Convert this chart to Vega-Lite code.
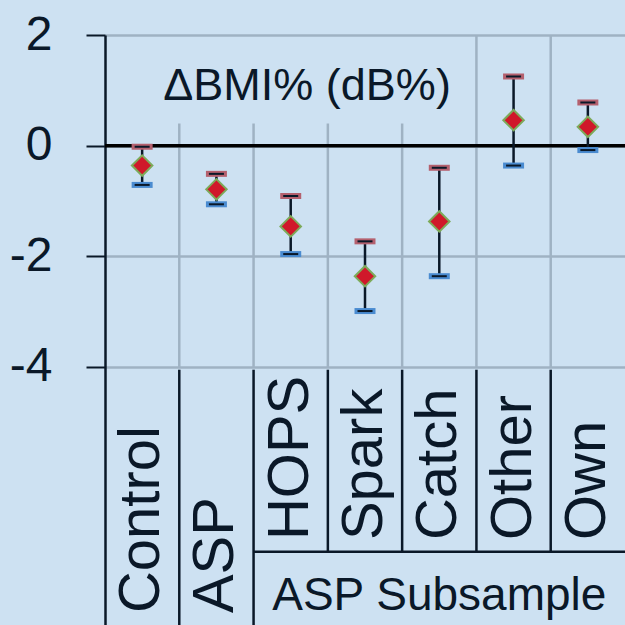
{
  "$schema": "https://vega.github.io/schema/vega-lite/v6.json",
  "width": 520,
  "height": 590,
  "autosize": "none",
  "padding": {"left": 105, "top": 35, "right": 0, "bottom": 0},
  "background": "#cde1f2",
  "config": {
    "view": {"stroke": null, "fill": "#cde1f2"},
    "font": "Liberation Sans Narrow, Arial Narrow, Liberation Sans",
    "axis": {"labelFont": "Liberation Sans Narrow, Arial Narrow, Liberation Sans"},
    "text": {"font": "Liberation Sans Narrow, Arial Narrow, Liberation Sans", "color": "#0a1828"}
  },
  "datasets": {
    "stats": [
      {"group": "Control", "set": "main", "mean": -0.36, "lower": -0.71, "upper": -0.02},
      {"group": "ASP", "set": "main", "mean": -0.79, "lower": -1.06, "upper": -0.51},
      {"group": "HOPS", "set": "sub", "mean": -1.46, "lower": -1.96, "upper": -0.91},
      {"group": "Spark", "set": "sub", "mean": -2.36, "lower": -2.99, "upper": -1.73},
      {"group": "Catch", "set": "sub", "mean": -1.37, "lower": -2.36, "upper": -0.40},
      {"group": "Other", "set": "sub", "mean": 0.46, "lower": -0.36, "upper": 1.25},
      {"group": "Own", "set": "sub", "mean": 0.34, "lower": -0.08, "upper": 0.78}
    ]
  },
  "data": {"name": "stats"},
  "encoding": {
    "x": {
      "field": "group",
      "type": "nominal",
      "sort": null,
      "scale": {"domain": ["Control", "ASP", "HOPS", "Spark", "Catch", "Other", "Own"], "paddingInner": 0, "paddingOuter": 0},
      "axis": null
    }
  },
  "layer": [
    {
      "transform": [{"filter": "indexof(['ASP','HOPS','Spark','Catch'], datum.group) >= 0"}],
      "mark": {"type": "rule", "color": "#9fb2c3", "strokeWidth": 2.5},
      "encoding": {
        "x": {"field": "group", "type": "nominal", "sort": null, "bandPosition": 0},
        "y": {"datum": -4, "type": "quantitative", "scale": {"domain": [-8.665, 2], "nice": false, "zero": false}},
        "y2": {"datum": 0.4}
      }
    },
    {
      "transform": [{"filter": "indexof(['Other','Own'], datum.group) >= 0"}],
      "mark": {"type": "rule", "color": "#9fb2c3", "strokeWidth": 2.5},
      "encoding": {
        "x": {"field": "group", "type": "nominal", "sort": null, "bandPosition": 0},
        "y": {"datum": -4, "type": "quantitative"},
        "y2": {"datum": 2}
      }
    },
    {
      "transform": [{"filter": "indexof(['ASP','HOPS'], datum.group) >= 0"}],
      "mark": {"type": "rule", "color": "#0a1828", "strokeWidth": 2.5},
      "encoding": {
        "x": {"field": "group", "type": "nominal", "sort": null, "bandPosition": 0},
        "y": {"datum": -4.05, "type": "quantitative"},
        "y2": {"datum": -8.665}
      }
    },
    {
      "transform": [{"filter": "indexof(['Spark','Catch','Other','Own'], datum.group) >= 0"}],
      "mark": {"type": "rule", "color": "#0a1828", "strokeWidth": 2.5},
      "encoding": {
        "x": {"field": "group", "type": "nominal", "sort": null, "bandPosition": 0},
        "y": {"datum": -4.05, "type": "quantitative"},
        "y2": {"datum": -7.34}
      }
    },
    {
      "transform": [{"filter": "datum.group == 'HOPS'"}],
      "mark": {"type": "rule", "color": "#0a1828", "strokeWidth": 2.5},
      "encoding": {
        "x": {"field": "group", "type": "nominal", "sort": null, "bandPosition": 0},
        "x2": {"value": "width"},
        "y": {"datum": -7.34, "type": "quantitative"}
      }
    },
    {
      "transform": [{"filter": "datum.group == 'Control'"}],
      "mark": {"type": "rule", "color": "#000000", "strokeWidth": 3.5},
      "encoding": {
        "x": {"field": "group", "type": "nominal", "sort": null, "bandPosition": 0},
        "x2": {"value": "width"},
        "y": {"datum": 0, "type": "quantitative"}
      }
    },
    {
      "mark": {"type": "rule", "color": "#0a1828", "strokeWidth": 2.5},
      "encoding": {
        "y": {
          "field": "lower",
          "type": "quantitative",
          "axis": {
            "values": [-4, -2, 0, 2],
            "title": null,
            "labelExpr": "datum.value < 0 ? '-' + abs(datum.value) : '' + datum.value",
            "domain": true,
            "domainColor": "#0a1828",
            "domainWidth": 2.5,
            "ticks": true,
            "tickColor": "#0a1828",
            "tickWidth": 2,
            "tickSize": 19,
            "labelFontSize": 48,
            "labelColor": "#0a1828",
            "labelPadding": 34,
            "labelFlush": false,
            "labelOverlap": false,
            "grid": true,
            "gridColor": "#9fb2c3",
            "gridWidth": 2.5
          }
        },
        "y2": {"field": "upper"}
      }
    },
    {
      "mark": {"type": "tick", "orient": "horizontal", "color": "#b4606e", "opacity": 1, "thickness": 6, "size": 21},
      "encoding": {"y": {"field": "upper", "type": "quantitative"}}
    },
    {
      "mark": {"type": "tick", "orient": "horizontal", "color": "#0a1828", "opacity": 1, "thickness": 2, "size": 15},
      "encoding": {"y": {"field": "upper", "type": "quantitative"}}
    },
    {
      "mark": {"type": "tick", "orient": "horizontal", "color": "#4a8bd0", "opacity": 1, "thickness": 6, "size": 21},
      "encoding": {"y": {"field": "lower", "type": "quantitative"}}
    },
    {
      "mark": {"type": "tick", "orient": "horizontal", "color": "#0a1828", "opacity": 1, "thickness": 2, "size": 15},
      "encoding": {"y": {"field": "lower", "type": "quantitative"}}
    },
    {
      "mark": {"type": "point", "shape": "diamond", "filled": true, "fill": "#d0182a", "stroke": "#7daa5a", "strokeWidth": 2, "size": 420, "opacity": 1},
      "encoding": {"y": {"field": "mean", "type": "quantitative"}}
    },
    {
      "transform": [{"filter": "datum.set == 'main'"}],
      "mark": {"type": "text", "angle": 270, "align": "left", "baseline": "middle", "fontSize": 58},
      "encoding": {
        "y": {"datum": -8.45, "type": "quantitative"},
        "text": {"field": "group"}
      }
    },
    {
      "transform": [{"filter": "datum.set == 'sub'"}],
      "mark": {"type": "text", "angle": 270, "align": "left", "baseline": "middle", "fontSize": 58},
      "encoding": {
        "y": {"datum": -7.13, "type": "quantitative"},
        "text": {"field": "group"}
      }
    },
    {
      "data": {"values": [{"label": "ASP Subsample"}]},
      "mark": {"type": "text", "align": "center", "baseline": "alphabetic", "fontSize": 46},
      "encoding": {
        "x": {"datum": "Catch"},
        "y": {"datum": -8.39, "type": "quantitative"},
        "text": {"field": "label"}
      }
    },
    {
      "data": {"values": [{"label": "ΔBMI% (dB%)"}]},
      "mark": {"type": "text", "align": "center", "baseline": "alphabetic", "fontSize": 45},
      "encoding": {
        "x": {"datum": "HOPS", "bandPosition": 0.72},
        "y": {"datum": 0.83, "type": "quantitative"},
        "text": {"field": "label"}
      }
    }
  ]
}
